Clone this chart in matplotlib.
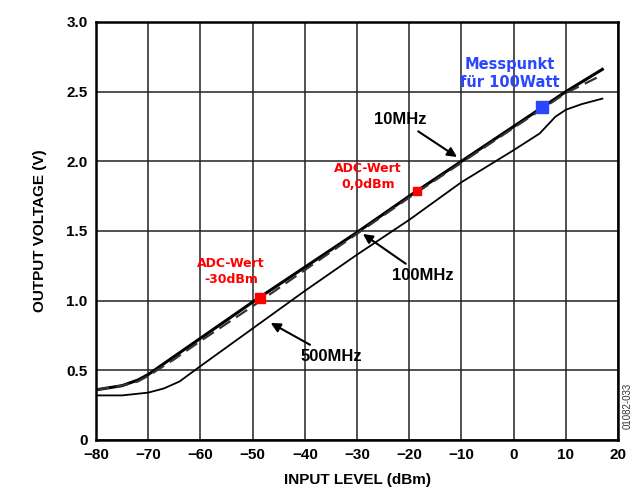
import matplotlib.pyplot as plt

# input level (dBm) and output voltage (V) per frequency
x_10 = [-80, -75, -72, -70, -65, -60, -50, -40, -30, -20, -10, 0, 10, 17]
v_10 = [0.36, 0.39, 0.43, 0.47, 0.60, 0.73, 0.99, 1.24, 1.49, 1.75, 2.00, 2.25, 2.50, 2.66]

x_100 = [-80, -75, -72, -70, -65, -60, -50, -40, -30, -20, -10, 0, 10, 17]
v_100 = [0.36, 0.39, 0.42, 0.46, 0.58, 0.71, 0.96, 1.22, 1.48, 1.74, 1.99, 2.24, 2.49, 2.62]

x_500 = [-80, -75, -70, -67, -64, -60, -50, -40, -30, -20, -10, 0, 5, 8, 10, 13, 17]
v_500 = [0.32, 0.32, 0.34, 0.37, 0.42, 0.53, 0.80, 1.07, 1.33, 1.58, 1.85, 2.08, 2.20, 2.32, 2.37, 2.41, 2.45]

adc_x = [-48.5, -18.5]
adc_v = [1.02, 1.79]
mess_x = [5.5]
mess_v = [2.39]

fig = plt.figure(figsize=(6.33, 4.92), dpi=100)
ax = fig.add_axes([0.1517, 0.1057, 0.8246, 0.8496])

ax.plot(x_10, v_10, color="black", lw=2.2)
ax.plot(x_100, v_100, color="#333333", lw=1.6, ls=(0, (6, 3)))
ax.plot(x_500, v_500, color="black", lw=1.3)

ax.plot(adc_x[0], adc_v[0], "s", color="red", ms=7)
ax.plot(adc_x[1], adc_v[1], "s", color="red", ms=6)
ax.plot(mess_x, mess_v, "s", color="#2a46ff", ms=9)

ax.set_xlim(-80, 20)
ax.set_ylim(0, 3.0)
ax.set_xticks(range(-80, 21, 10))
ax.set_yticks([0, 0.5, 1.0, 1.5, 2.0, 2.5, 3.0])
ax.set_yticklabels(["0", "0.5", "1.0", "1.5", "2.0", "2.5", "3.0"])
ax.set_xticklabels([str(t).replace("-", "\u2212") for t in range(-80, 21, 10)])
ax.grid(True, color="#222222", lw=1.1)
ax.tick_params(length=0, pad=6)
for lab in ax.get_xticklabels() + ax.get_yticklabels():
    lab.set_fontfamily("Liberation Sans")
    lab.set_fontweight("bold")
    lab.set_fontsize(11)
for sp in ax.spines.values():
    sp.set_linewidth(1.8)

ax.set_xlabel("INPUT LEVEL (dBm)", fontsize=11, fontweight="bold",
              family="Liberation Sans", labelpad=8)
ax.set_ylabel("OUTPUT VOLTAGE (V)", fontsize=11, fontweight="bold",
              family="Liberation Sans", labelpad=14)

arrow = dict(arrowstyle="-|>", color="black", lw=1.5, mutation_scale=14)
lbl = dict(fontsize=12, fontweight="bold", family="Liberation Sans")
ax.annotate("10MHz", xy=(-10.4, 2.02), xytext=(-21.7, 2.30), ha="center", va="center",
            arrowprops=arrow, **lbl)
ax.annotate("100MHz", xy=(-29.3, 1.49), xytext=(-17.4, 1.18), ha="center", va="center",
            arrowprops=arrow, **lbl)
ax.annotate("500MHz", xy=(-47.0, 0.85), xytext=(-35.0, 0.60), ha="center", va="center",
            arrowprops=arrow, **lbl)

ax.text(-54.1, 1.21, "ADC-Wert\n-30dBm", color="red", fontsize=9, fontweight="bold",
        ha="center", va="center", linespacing=1.25)
ax.text(-27.9, 1.89, "ADC-Wert\n0,0dBm", color="red", fontsize=9, fontweight="bold",
        ha="center", va="center", linespacing=1.25)
ax.text(-0.7, 2.63, "Messpunkt\nfür 100Watt", color="#2a46ff", fontsize=10.5, fontweight="bold",
        ha="center", va="center", linespacing=1.2)

fig.text(0.992, 0.175, "01082-033", rotation=90, fontsize=7, color="#333333",
         ha="center", va="center", family="Liberation Sans")

fig.savefig("out.png", dpi=100)
